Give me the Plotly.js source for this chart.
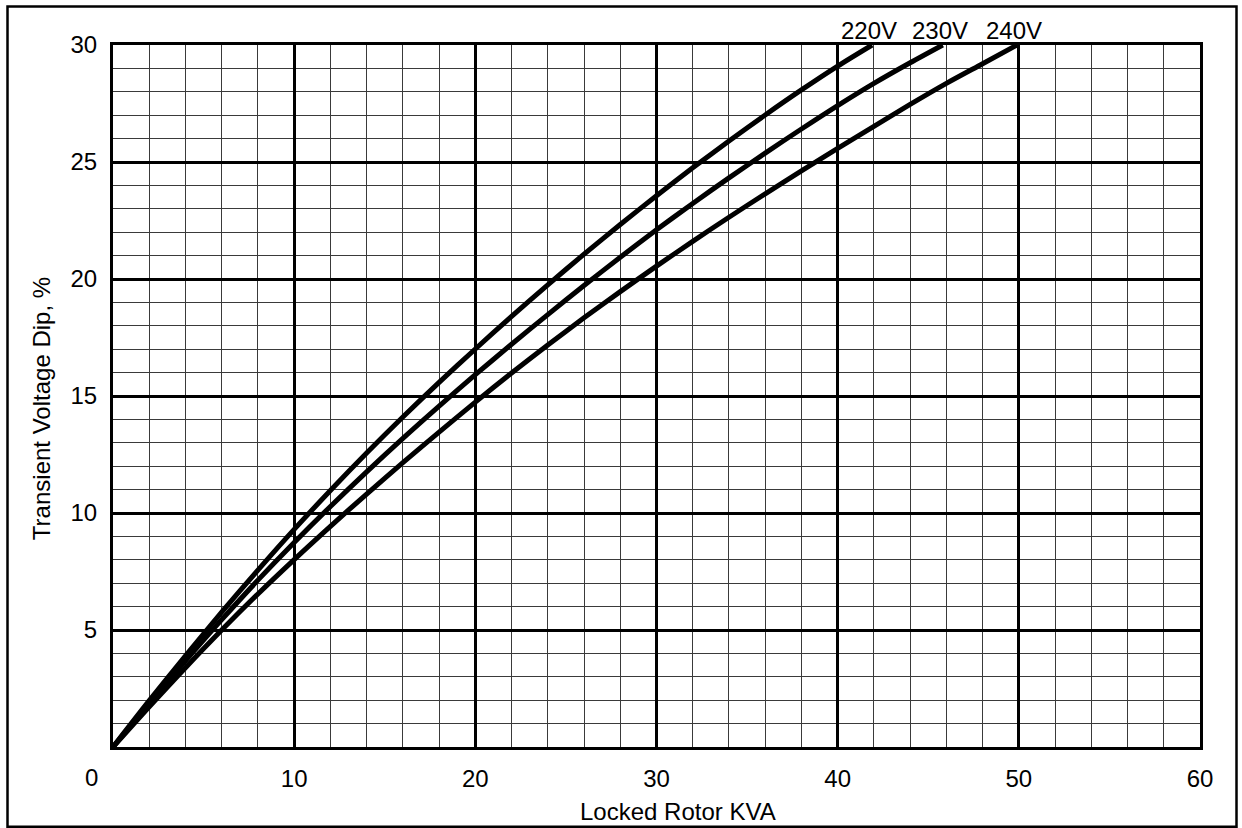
<!DOCTYPE html>
<html>
<head>
<meta charset="utf-8">
<script src="https://cdn.plot.ly/plotly-3.0.1.min.js"></script>
<style>
html,body{margin:0;padding:0;background:#fff;}
#chart{width:1242px;height:828px;}
</style>
</head>
<body>
<div id="chart"></div>
<script>
// ---- data ----
const seriesNames = ["220V", "230V", "240V"];

const kva220 = [0, 2, 4, 6, 8, 10, 12, 14, 16, 18, 20, 22, 24, 26, 28, 30, 32, 34, 36, 38, 40, 41.9];
const dip220 = [0, 1.98, 3.9, 5.76, 7.56, 9.3, 10.96, 12.56, 14.1, 15.58, 17.01, 18.4, 19.75, 21.06, 22.33, 23.56, 24.75, 25.9, 27.01, 28.08, 29.1, 30];

const kva230 = [0, 2, 4, 6, 8, 10, 12, 14, 16, 18, 20, 22, 24, 26, 28, 30, 32, 34, 36, 38, 40, 42, 44, 45.8];
const dip230 = [0, 1.86, 3.68, 5.44, 7.13, 8.74, 10.28, 11.76, 13.19, 14.57, 15.91, 17.21, 18.48, 19.72, 20.93, 22.1, 23.23, 24.32, 25.38, 26.41, 27.41, 28.36, 29.24, 30];

const kva240 = [0, 2, 4, 6, 8, 10, 12, 14, 16, 18, 20, 22, 24, 26, 28, 30, 32, 34, 36, 38, 40, 42, 44, 46, 48, 49.9];
const dip240 = [0, 1.72, 3.39, 5.0, 6.54, 8.01, 9.43, 10.81, 12.15, 13.46, 14.74, 15.98, 17.18, 18.34, 19.46, 20.55, 21.61, 22.64, 23.64, 24.62, 25.58, 26.52, 27.46, 28.36, 29.2, 30];

const xTickVals = [10, 20, 30, 40, 50, 60];
const yTickVals = [5, 10, 15, 20, 25, 30];
const xTitle = "Locked Rotor KVA";
const yTitle = "Transient Voltage Dip, %";
const cornerLabel = "0";

// ---- chart ----
const FONT = "Arial, 'Liberation Sans', sans-serif";
const FS = 24;
const PLOT_L = 113, PLOT_R = 1200, PLOT_T = 45, PLOT_B = 746.7;
const PW = PLOT_R - PLOT_L, PH = PLOT_B - PLOT_T;
const px = v => (v - PLOT_L) / PW;      // pixel -> paper x
const py = v => (PLOT_B - v) / PH;      // pixel -> paper y

const xs = [kva220, kva230, kva240];
const ys = [dip220, dip230, dip240];

const traces = xs.map((x, i) => ({
  type: "scatter",
  mode: "lines",
  x: x,
  y: ys[i],
  name: seriesNames[i],
  line: {color: "#000", width: 5, shape: "spline", smoothing: 0.8},
  hoverinfo: "skip"
}));

const curveLabels = xs.map((x, i) => ({
  x: x[x.length - 1],
  y: ys[i][ys[i].length - 1],
  xref: "x", yref: "y",
  text: seriesNames[i],
  showarrow: false,
  xanchor: "center", yanchor: "bottom",
  xshift: -3, yshift: -1,
  font: {family: FONT, size: FS, color: "#000"}
}));

const layout = {
  width: 1242, height: 828,
  margin: {l: PLOT_L, r: 1242 - PLOT_R, t: PLOT_T, b: 828 - PLOT_B, pad: 0},
  paper_bgcolor: "#fff",
  plot_bgcolor: "#fff",
  showlegend: false,
  font: {family: FONT, size: FS, color: "#000"},
  xaxis: {
    range: [0, 60],
    tickmode: "array",
    tickvals: xTickVals,
    ticks: "",
    ticklabelstandoff: 8,
    showgrid: true, gridcolor: "#000", gridwidth: 3,
    zeroline: false,
    showline: true, linecolor: "#000", linewidth: 3, mirror: true,
    minor: {tickmode: "linear", tick0: 0, dtick: 2, showgrid: true, gridcolor: "#3a3a3a", gridwidth: 1, ticks: ""},
    tickfont: {family: FONT, size: FS, color: "#000"},
    fixedrange: true
  },
  yaxis: {
    range: [0, 30],
    tickmode: "array",
    tickvals: yTickVals,
    ticks: "",
    ticklabelstandoff: 8,
    showgrid: true, gridcolor: "#000", gridwidth: 3,
    zeroline: false,
    showline: true, linecolor: "#000", linewidth: 3, mirror: true,
    minor: {tickmode: "linear", tick0: 0, dtick: 1, showgrid: true, gridcolor: "#3a3a3a", gridwidth: 1, ticks: ""},
    tickfont: {family: FONT, size: FS, color: "#000"},
    fixedrange: true
  },
  annotations: curveLabels.concat([
    {
      xref: "paper", yref: "paper",
      x: px(91.5), y: py(776.7),
      text: cornerLabel, showarrow: false,
      xanchor: "center", yanchor: "middle",
      font: {family: FONT, size: FS, color: "#000"}
    },
    {
      xref: "paper", yref: "paper",
      x: px(677.5), y: py(811),
      text: xTitle, showarrow: false,
      xanchor: "center", yanchor: "middle",
      font: {family: FONT, size: FS, color: "#000"}
    },
    {
      xref: "paper", yref: "paper",
      x: px(41), y: py(409),
      text: yTitle, showarrow: false, textangle: -90,
      xanchor: "center", yanchor: "middle",
      font: {family: FONT, size: FS, color: "#000"}
    }
  ]),
  shapes: [
    {
      type: "rect", xref: "paper", yref: "paper",
      x0: px(7.5), x1: px(1236.5),
      y0: py(826.5), y1: py(6.5),
      line: {color: "#000", width: 2.5},
      fillcolor: "rgba(0,0,0,0)",
      layer: "below"
    }
  ]
};

Plotly.newPlot("chart", traces, layout, {staticPlot: true, displayModeBar: false});
</script>
</body>
</html>
